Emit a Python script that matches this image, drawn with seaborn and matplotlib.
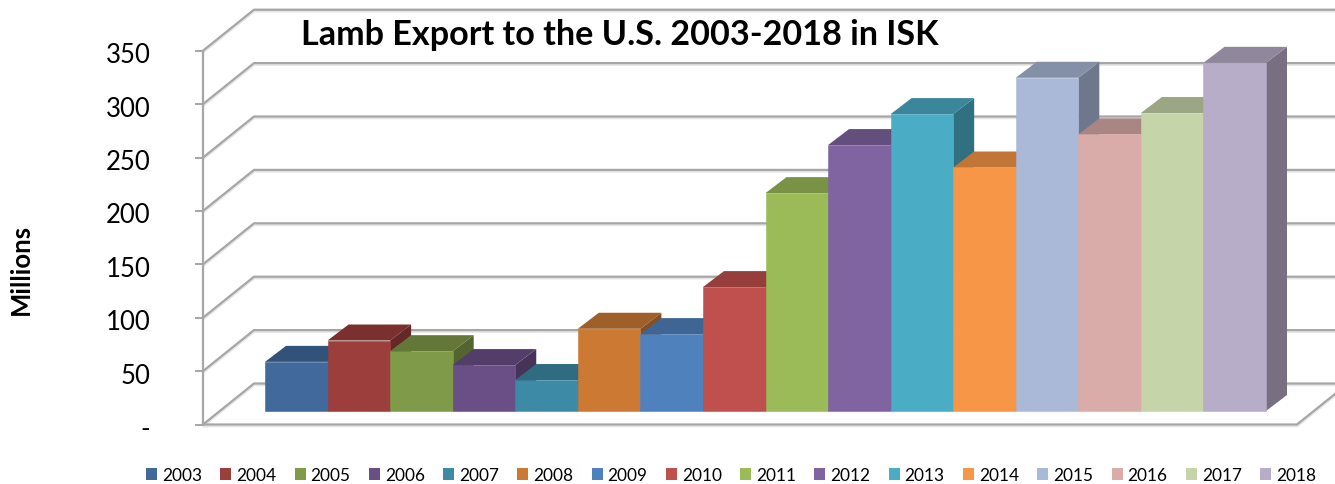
import matplotlib
matplotlib.use('Agg')
import matplotlib.pyplot as plt
from matplotlib.patches import Patch, Polygon
from matplotlib.transforms import ScaledTranslation
import numpy as np
import seaborn as sns

YEARS = ['2003', '2004', '2005', '2006', '2007', '2008', '2009', '2010',
         '2011', '2012', '2013', '2014', '2015', '2016', '2017', '2018']
VALUES = [46, 66, 56, 43, 29, 77, 72, 116, 204, 249, 278, 228, 312, 259, 279, 326]
COLORS = ['#41699C', '#9B3E3C', '#7F9A48', '#6A4F87', '#3C8AA5', '#CC7A33',
          '#4F81BD', '#C0504D', '#9BBB59', '#8064A2', '#4BACC6', '#F79646',
          '#A9B9D7', '#D9ABA9', '#C6D5A9', '#B8ADC8']
TICKS = [0, 50, 100, 150, 200, 250, 300, 350]
TICK_LABELS = ['-', '50', '100', '150', '200', '250', '300', '350']

W, H = 1335, 485
GRID = '#A6A6A6'
SHADOW = '#E6E6E6'

sns.set_theme(style='white')
plt.rcParams['font.family'] = ['Lato', 'DejaVu Sans']

fig = plt.figure(figsize=(W / 100, H / 100), dpi=100, facecolor='white')

# ─── Pixel box to figure fractions
#
def px_axes(left, right, bottom, top):
    return fig.add_axes([left / W, 1 - bottom / H, (right - left) / W, (bottom - top) / H])

# ─── Walls and floor (front plane)
#
wall = px_axes(203, 1297, 425.5, 51.7)
wall.set_xlim(0, 1094)
wall.set_ylim(0, 350)
wall.patch.set_alpha(0)
px_per_unit = (425.5 - 51.7) / 350
wall_dx = 51
wall_dy = 41 / px_per_unit

def wall_line(xs, ys):
    wall.plot(xs, np.array(ys) - 1.2, color=SHADOW, lw=2.2, clip_on=False, zorder=1,
              solid_capstyle='butt')
    wall.plot(xs, ys, color=GRID, lw=1.6, clip_on=False, zorder=2, solid_capstyle='butt')

for v in TICKS:
    wall_line([0, wall_dx, 1094 + wall_dx], [v, v + wall_dy, v + wall_dy])
wall_line([0, 1094, 1094 + wall_dx], [0, 0, wall_dy])

for name in ['top', 'right', 'bottom']:
    wall.spines[name].set_visible(False)
wall.spines['left'].set_color(GRID)
wall.spines['left'].set_linewidth(1.6)
wall.set_xticks([])
wall.set_yticks(TICKS)
wall.set_yticklabels(TICK_LABELS, fontsize=18.5, color='black', va='center')
wall.tick_params(axis='y', left=True, length=5.8, width=1.4, color=GRID, pad=32)
nudge = ScaledTranslation(0, -4 / 100, fig.dpi_scale_trans)
for lab in wall.get_yticklabels():
    lab.set_transform(lab.get_transform() + nudge)

# ─── Bars (plane set back from the front edge of the floor)
#
ax = px_axes(265, 1266, 412, 412 - 350 * px_per_unit)
ax.patch.set_alpha(0)
sns.barplot(x=YEARS, y=VALUES, hue=YEARS, palette=COLORS, width=1, saturation=1,
            legend=False, dodge=False, linewidth=0, ax=ax)
ax.set_xlim(-0.5, 15.5)
ax.set_ylim(0, 350)
ax.axis('off')

depth_x = 21 / ((1266 - 265) / 16)
depth_y = 16 / px_per_unit

bars = sorted(ax.patches, key=lambda b: b.get_x())
for i, (bar, col) in enumerate(zip(bars, COLORS)):
    x0, x1 = bar.get_x(), bar.get_x() + bar.get_width()
    top = bar.get_height()
    rgb = np.array(matplotlib.colors.to_rgb(col))
    side = Polygon([(x1, 0), (x1 + depth_x, depth_y), (x1 + depth_x, top + depth_y), (x1, top)],
                   facecolor=rgb * 0.65, edgecolor='none', clip_on=False, zorder=3 + i)
    lid = Polygon([(x0, top), (x0 + depth_x, top + depth_y), (x1 + depth_x, top + depth_y), (x1, top)],
                  facecolor=rgb * 0.78, edgecolor='none', clip_on=False, zorder=3 + i)
    ax.add_patch(side)
    ax.add_patch(lid)
    bar.set_edgecolor(col)
    bar.set_linewidth(0.4)
    bar.set_zorder(3.5 + i)
    bar.set_clip_on(False)

# ─── Text
#
fig.text(301 / W, 1 - 35 / H, 'Lamb Export to the U.S. 2003-2018 in ISK', fontsize=24.6,
         fontweight='bold', color='black', ha='left', va='center')
fig.text(21 / W, 1 - 269 / H, 'Millions', fontsize=18.5, fontweight='bold', color='black',
         rotation=90, ha='center', va='center')

handles = [Patch(facecolor=c, edgecolor='none', label=y) for y, c in zip(YEARS, COLORS)]
fig.legend(handles=handles, ncol=16, loc='center left', bbox_to_anchor=(146 / W, 1 - 476 / H),
           frameon=False, fontsize=12.4, handlelength=0.64, handleheight=0.64,
           handletextpad=0.28, columnspacing=1.07, borderpad=0, borderaxespad=0,
           labelcolor='black')

fig.savefig('out.png', dpi=100)
plt.close(fig)
